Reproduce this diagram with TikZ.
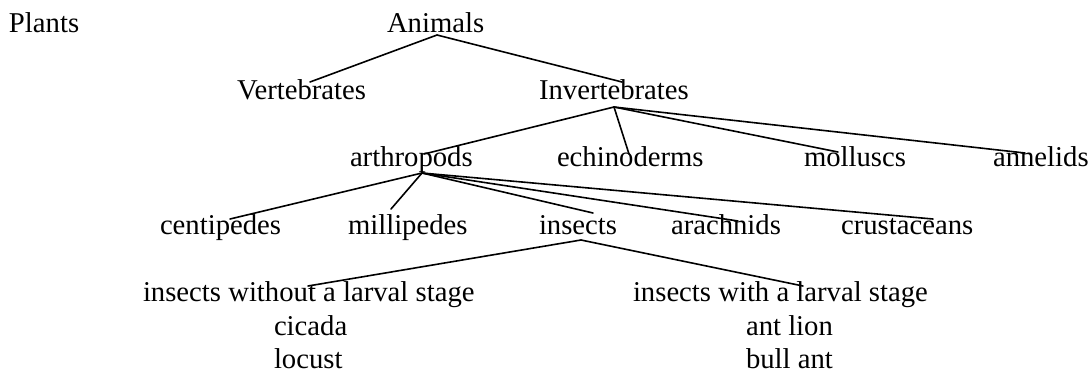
\documentclass[tikz,border=0pt]{standalone}
\usepackage{fontspec}
\setmainfont{Liberation Serif}
\begin{document}
\begin{tikzpicture}[x=1pt,y=-1pt,
  lbl/.style={anchor=base west,inner sep=0pt,outer sep=0pt,font=\fontsize{28.7}{31}\selectfont},
  edge/.style={line width=1.6pt,line cap=round}]
\useasboundingbox (0,0) rectangle (1092,373);
% level 0
\node[lbl] (plants) at (9,32) {Plants};
\node[lbl] (animals) at (387,32) {Animals};
% level 1
\node[lbl] (vert) at (237,99) {Vertebrates};
\node[lbl] (invert) at (539,99) {Invertebrates};
% level 2
\node[lbl] (arthro) at (350,166) {arthropods};
\node[lbl] (echino) at (557,166) {echinoderms};
\node[lbl] (mollus) at (804,166) {molluscs};
\node[lbl] (annel) at (993,166) {annelids};
% level 3
\node[lbl] (centi) at (160,234) {centipedes};
\node[lbl] (milli) at (348,234) {millipedes};
\node[lbl] (insects) at (539,234) {insects};
\node[lbl] (arach) at (671,234) {arachnids};
\node[lbl] (crust) at (841,234) {crustaceans};
% level 4
\node[lbl] (without) at (143,301) {insects without a larval stage};
\node[lbl] (cicada) at (274,335) {cicada};
\node[lbl] (locust) at (274,368) {locust};
\node[lbl] (with) at (633,301) {insects with a larval stage};
\node[lbl] (antlion) at (746,335) {ant lion};
\node[lbl] (bullant) at (746,368) {bull ant};
% connectors
\draw[edge] ([xshift=50pt,yshift=-3pt]animals.base west) -- ([xshift=73pt,yshift=17pt]vert.base west);
\draw[edge] ([xshift=50pt,yshift=-3pt]animals.base west) -- ([xshift=83pt,yshift=17pt]invert.base west);
\draw[edge] ([xshift=75pt,yshift=-8pt]invert.base west) -- ([xshift=74pt,yshift=12pt]arthro.base west);
\draw[edge] ([xshift=75pt,yshift=-8pt]invert.base west) -- ([xshift=72pt,yshift=12pt]echino.base west);
\draw[edge] ([xshift=75pt,yshift=-8pt]invert.base west) -- ([xshift=34pt,yshift=14pt]mollus.base west);
\draw[edge] ([xshift=75pt,yshift=-8pt]invert.base west) -- ([xshift=32pt,yshift=13pt]annel.base west);
\draw[edge] ([xshift=72pt,yshift=-7pt]arthro.base west) -- ([xshift=70pt,yshift=15pt]centi.base west);
\draw[edge] ([xshift=72pt,yshift=-7pt]arthro.base west) -- ([xshift=43pt,yshift=25pt]milli.base west);
\draw[edge] ([xshift=72pt,yshift=-7pt]arthro.base west) -- ([xshift=54pt,yshift=21pt]insects.base west);
\draw[edge] ([xshift=72pt,yshift=-7pt]arthro.base west) -- ([xshift=67pt,yshift=13pt]arach.base west);
\draw[edge] ([xshift=72pt,yshift=-7pt]arthro.base west) -- ([xshift=92pt,yshift=15pt]crust.base west);
\draw[edge] ([xshift=42pt,yshift=-6pt]insects.base west) -- ([xshift=165pt,yshift=15pt]without.base west);
\draw[edge] ([xshift=42pt,yshift=-6pt]insects.base west) -- ([xshift=170pt,yshift=15pt]with.base west);
\end{tikzpicture}
\end{document}
